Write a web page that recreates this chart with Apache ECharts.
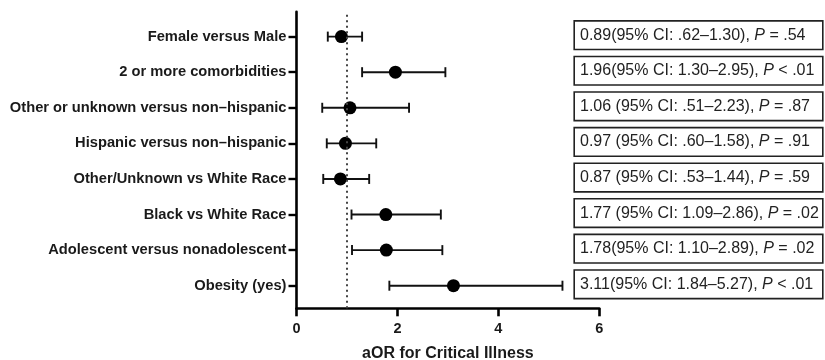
<!DOCTYPE html>
<html>
<head>
<meta charset="utf-8">
<script src="https://cdn.jsdelivr.net/npm/echarts@6/dist/echarts.min.js"></script>
<style>html,body{margin:0;padding:0;background:#fff}#c{width:825px;height:360px}</style>
</head>
<body>
<div id="c"></div>
<script>
const categories = ["Female versus Male","2 or more comorbidities","Other or unknown versus non\u2013hispanic","Hispanic versus non\u2013hispanic","Other/Unknown vs White Race","Black vs White Race","Adolescent versus nonadolescent","Obesity (yes)"];
const estimates = [0.89,1.96,1.06,0.97,0.87,1.77,1.78,3.11];
const lowerCI = [0.62,1.30,0.51,0.60,0.53,1.09,1.10,1.84];
const upperCI = [1.30,2.95,2.23,1.58,1.44,2.86,2.89,5.27];
const ciText = ["0.89(95% CI: .62\u20131.30), ","1.96(95% CI: 1.30\u20132.95), ","1.06 (95% CI: .51\u20132.23), ","0.97 (95% CI: .60\u20131.58), ","0.87 (95% CI: .53\u20131.44), ","1.77 (95% CI: 1.09\u20132.86), ","1.78(95% CI: 1.10\u20132.89), ","3.11(95% CI: 1.84\u20135.27), "];
const pText = [" = .54"," < .01"," = .87"," = .91"," = .59"," = .02"," = .02"," < .01"];
const xTicks = [0,2,4,6];
const refLine = 1;

const n = categories.length;
const rowPos = categories.map((c,i)=>n-i); // top row highest
const rowVals = rowPos.slice();
const labelFor = v => categories[n - v];
const boxFor = v => { const i = n - v; return '{t|' + ciText[i] + '}{i|P}{t|' + pText[i] + '}'; };

const chart = echarts.init(document.getElementById('c'), null, {renderer:'canvas'});
const FONT = 'Liberation Sans, Arial, sans-serif';
chart.setOption({
  animation:false,
  grid:{left:296.5, right:225.7, top:11.7, bottom:51.7, containLabel:false, outerBoundsMode:'none'},
  xAxis:{type:'value', min:0, max:6, interval:2,
    axisLine:{show:true, onZero:false, lineStyle:{color:'#000', width:2.6}},
    axisTick:{show:true, length:8, lineStyle:{color:'#000', width:2.6}},
    axisLabel:{color:'#1a1a1a', fontFamily:FONT, fontWeight:'bold', fontSize:14.5, margin:13},
    splitLine:{show:false},
    name:'aOR for Critical Illness', nameLocation:'middle', nameGap:37,
    nameTextStyle:{color:'#1a1a1a', fontFamily:FONT, fontWeight:'bold', fontSize:16}
  },
  yAxis:[{type:'value', min:0.365, max:8.70,
    axisLine:{show:true, onZero:false, lineStyle:{color:'#000', width:2.6}},
    axisTick:{show:true, length:8, customValues:rowVals, lineStyle:{color:'#000', width:2.4}},
    axisLabel:{customValues:rowVals, formatter:v=>labelFor(v), color:'#1a1a1a', fontFamily:FONT, fontWeight:'bold', fontSize:14.7, margin:10},
    splitLine:{show:false}
  },{type:'value', min:0.325, max:8.66, position:'right', offset:-24.3,
    axisLine:{show:false}, axisTick:{show:false}, splitLine:{show:false},
    axisLabel:{customValues:rowVals, formatter:v=>boxFor(v), margin:0, align:'left',
      borderColor:'#222', borderWidth:1.6, padding:[5,5,5,5], width:237, backgroundColor:'#fff',
      rich:{t:{fontFamily:FONT, fontSize:16, color:'#222', lineHeight:17},
            i:{fontFamily:FONT, fontSize:16, color:'#222', fontStyle:'italic', lineHeight:17}}}
  }],
  series:[
    {type:'custom', xAxisIndex:0, yAxisIndex:0,
     data: rowPos.map((y,i)=>[lowerCI[i], upperCI[i], y]),
     renderItem:function(params, api){
       const a = api.coord([api.value(0), api.value(2)]);
       const b = api.coord([api.value(1), api.value(2)]);
       const h = 5;
       const st = {stroke:'#111', lineWidth:1.9};
       return {type:'group', children:[
         {type:'line', shape:{x1:a[0],y1:a[1],x2:b[0],y2:b[1]}, style:st},
         {type:'line', shape:{x1:a[0],y1:a[1]-h,x2:a[0],y2:a[1]+h}, style:st},
         {type:'line', shape:{x1:b[0],y1:b[1]-h,x2:b[0],y2:b[1]+h}, style:st}
       ]};
     },
     markLine:{silent:true, symbol:'none', label:{show:false},
       lineStyle:{color:'#444', type:[2,3.5], width:2},
       data:[{xAxis:refLine}]},
     z:2},
    {type:'scatter', xAxisIndex:0, yAxisIndex:0,
     data: rowPos.map((y,i)=>[estimates[i], y]),
     symbol:'circle', symbolSize:13, itemStyle:{color:'#000', opacity:1}, z:3}
  ]
});
</script>
</body>
</html>
